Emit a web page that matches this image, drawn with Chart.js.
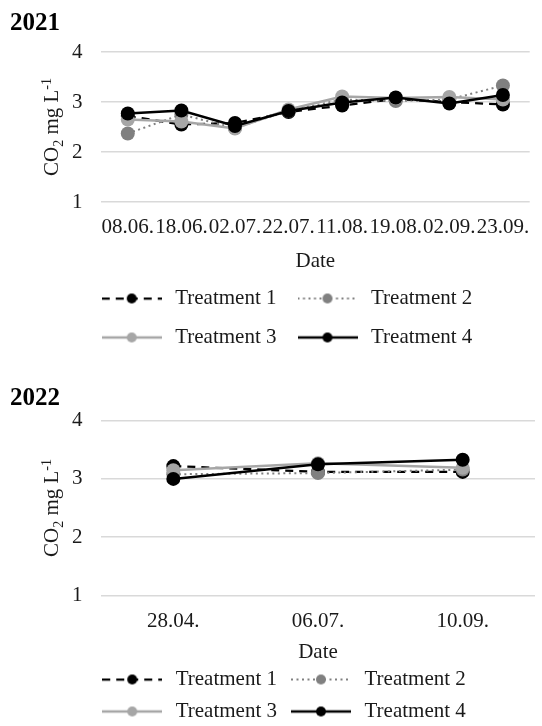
<!DOCTYPE html>
<html>
<head>
<meta charset="utf-8">
<script src="https://cdn.jsdelivr.net/npm/chart.js@4.4.1/dist/chart.umd.min.js"></script>
<style>
  html, body { margin: 0; padding: 0; background: #fff; overflow: hidden; width: 542px; height: 726px; }
  canvas { position: absolute; left: 0; }
  #c2021 { top: 0; }
  #c2022 { top: 370px; }
</style>
</head>
<body>
<canvas id="c2021" width="542" height="358"></canvas>
<canvas id="c2022" width="542" height="362"></canvas>
<script>
// CO2 readings, mg/L
const dates2021 = ['08.06.', '18.06.', '02.07.', '22.07.', '11.08.', '19.08.', '02.09.', '23.09.'];
const t1_2021 = [2.72, 2.55, 2.58, 2.80, 2.93, 3.06, 3.00, 2.95];
const t2_2021 = [2.37, 2.75, 2.48, 2.82, 3.05, 3.02, 3.05, 3.33];
const t3_2021 = [2.65, 2.61, 2.47, 2.85, 3.11, 3.08, 3.10, 3.05];
const t4_2021 = [2.77, 2.83, 2.52, 2.82, 2.99, 3.09, 2.97, 3.14];

const dates2022 = ['28.04.', '06.07.', '10.09.'];
const t1_2022 = [3.22, 3.12, 3.12];
const t2_2022 = [3.08, 3.10, 3.16];
const t3_2022 = [3.15, 3.27, 3.19];
const t4_2022 = [3.00, 3.25, 3.33];

const seriesNames = ['Treatment 1', 'Treatment 2', 'Treatment 3', 'Treatment 4'];
const yTicks = [1, 2, 3, 4];
// y axis title pieces: text, font size, baseline shift (sub/superscript)
const yTitleParts = [['CO', 21, 0], ['2', 14, 4.5], [' mg L', 21, 0], ['-1', 14, -7.5]];

// line look per treatment: colour, width, dash
const styles = [
  { color: '#000000', width: 2.25, dash: [8, 6] },
  { color: '#808080', width: 2, dash: [2, 3.5] },
  { color: '#a6a6a6', width: 2.5, dash: [] },
  { color: '#000000', width: 2.5, dash: [] }
];

const FONT = "'Liberation Serif', 'Times New Roman', serif";
const TEXT = '#1a1a1a';

// little "line + marker" pictures for the legend, like the Excel ones
function legendIcon(s) {
  const c = document.createElement('canvas');
  c.width = 60; c.height = 16;
  const g = c.getContext('2d');
  g.strokeStyle = s.color;
  g.lineWidth = s.width;
  g.setLineDash(s.dash);
  g.beginPath(); g.moveTo(0, 8); g.lineTo(60, 8); g.stroke();
  g.setLineDash([]);
  g.fillStyle = s.color;
  g.beginPath(); g.arc(30, 8, 5, 0, Math.PI * 2); g.fill();
  return c;
}
const icons = styles.map(legendIcon);

// y title drawn by hand so the subscript 2 and superscript -1 look right
const yTitlePlugin = {
  id: 'yTitle',
  afterLayout(chart, args, opts) {
    // nudge the legend a bit to the right, as in the original
    chart.legend.left += opts.legendShift || 0;
    chart.legend.right += opts.legendShift || 0;
  },
  afterDraw(chart) {
    const ctx = chart.ctx;
    const a = chart.chartArea;
    ctx.save();
    ctx.translate(51, (a.top + a.bottom) / 2);
    ctx.rotate(-Math.PI / 2);
    ctx.fillStyle = TEXT;
    ctx.textAlign = 'left';
    ctx.textBaseline = 'alphabetic';
    let total = 0;
    yTitleParts.forEach(p => { ctx.font = p[1] + 'px ' + FONT; total += ctx.measureText(p[0]).width; });
    let x = -total / 2;
    yTitleParts.forEach(p => {
      ctx.font = p[1] + 'px ' + FONT;
      ctx.fillText(p[0], x, 7 + p[2]);
      x += ctx.measureText(p[0]).width;
    });
    ctx.restore();
  }
};

function makeDatasets(values) {
  return values.map((v, i) => ({
    label: seriesNames[i],
    data: v,
    borderColor: styles[i].color,
    backgroundColor: styles[i].color,
    borderWidth: styles[i].width,
    borderDash: styles[i].dash,
    pointRadius: 7,
    pointHoverRadius: 7,
    pointBorderWidth: 0,
    pointBackgroundColor: styles[i].color,
    tension: 0,
    order: 3 - i   // treatment 4 drawn on top
  }));
}

function makeChart(id, year, labels, values, lay) {
  return new Chart(document.getElementById(id), {
    type: 'line',
    data: { labels: labels, datasets: makeDatasets(values) },
    plugins: [yTitlePlugin],
    options: {
      responsive: false,
      animation: false,
      devicePixelRatio: 1,
      layout: { padding: { left: 10, right: 1, top: 0, bottom: 0 } },
      plugins: {
        yTitle: { legendShift: lay.legendShift },
        title: {
          display: true,
          text: year,
          align: 'start',
          color: '#000',
          font: { family: FONT, size: 25, weight: 'bold', lineHeight: 1 },
          padding: { top: lay.titleTop, bottom: lay.titleBottom }
        },
        legend: {
          position: 'bottom',
          labels: {
            usePointStyle: true,
            pointStyleWidth: 66,
            padding: lay.legendPad,
            color: TEXT,
            font: { family: FONT, size: 21 },
            generateLabels: chart => Chart.defaults.plugins.legend.labels.generateLabels(chart)
              .map(item => Object.assign(item, { pointStyle: icons[item.datasetIndex] })),
            sort: (a, b) => a.datasetIndex - b.datasetIndex
          }
        },
        tooltip: { enabled: false }
      },
      scales: {
        x: {
          offset: true,
          grid: { display: false, drawTicks: false },
          border: { display: false },
          ticks: { color: TEXT, padding: lay.tickPad, font: { family: FONT, size: 21 }, maxRotation: 0, autoSkip: false },
          title: {
            display: true, text: 'Date', color: TEXT,
            font: { family: FONT, size: 21, lineHeight: 1 },
            padding: { top: lay.dateTop, bottom: lay.dateBottom }
          }
        },
        y: {
          min: yTicks[0],
          max: yTicks[yTicks.length - 1],
          afterBuildTicks: scale => { scale.ticks = yTicks.map(v => ({ value: v })); },
          afterFit: scale => { scale.width = 91; },
          grid: { color: '#d9d9d9', lineWidth: 1.5, drawTicks: false },
          border: { display: false },
          ticks: { color: TEXT, padding: 18.5, font: { family: FONT, size: 21 } }
        }
      }
    }
  });
}

makeChart('c2021', '2021', dates2021, [t1_2021, t2_2021, t3_2021, t4_2021],
  { titleTop: 11, titleBottom: 16, legendPad: 18, legendShift: 10, tickPad: 12.4, dateTop: -1.5, dateBottom: -1.5 });

makeChart('c2022', '2022', dates2022, [t1_2022, t2_2022, t3_2022, t4_2022],
  { titleTop: 16.5, titleBottom: 9.2, legendPad: 11, legendShift: 7, tickPad: 13.1, dateTop: -5.2, dateBottom: -4.5 });
</script>
</body>
</html>
